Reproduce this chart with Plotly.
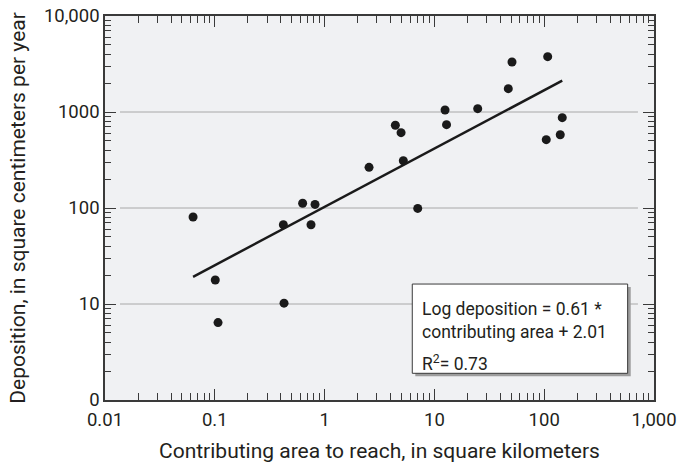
import plotly.graph_objects as go

# Data
area_km2 = [0.0634, 0.101, 0.107, 0.427, 0.421, 0.631, 0.752, 0.818, 2.54, 4.41,
            4.97, 5.21, 7.05, 12.5, 12.9, 24.8, 47.1, 50.9, 107.6, 104.4, 140, 146]
deposition = [80.6, 17.8, 6.4, 10.2, 67, 112, 67, 109, 265, 727,
              609, 311, 99, 1050, 738, 1083, 1750, 3318, 3768, 515, 580, 873]

fit_x = [0.0634, 146]
fit_y = [19.2, 2120]

x_tickvals = [0.01, 0.1, 1, 10, 100, 1000]
x_ticktext = ["0.01", "0.1", "1", "10", "100", "1,000"]
y_tickvals = [1, 10, 100, 1000, 10000]
y_ticktext = ["0", "10", "100", "1000", "10,000"]
grid_vals = [10, 100, 1000]
grid_span = [0.0137, 714]

x_minor = [m * 10 ** e for e in range(-2, 3) for m in range(2, 10)]
y_minor = [m * 10 ** e for e in range(0, 4) for m in range(2, 10)]

FONT = "Roboto, Liberation Sans Narrow, sans-serif"
TXT = "#231f20"
AX = "#3a3a3a"

fig = go.Figure()

# grid lines (short of the frame, as in the reference)
for g in grid_vals:
    fig.add_trace(go.Scatter(x=grid_span, y=[g, g], mode="lines",
                             line=dict(color="#a8a8a8", width=1), hoverinfo="skip",
                             showlegend=False))

fig.add_trace(go.Scatter(x=area_km2, y=deposition, mode="markers",
                         marker=dict(color="#1a1a1a", size=9), showlegend=False))
fig.add_trace(go.Scatter(x=fit_x, y=fit_y, mode="lines",
                         line=dict(color="#1a1a1a", width=2.5), showlegend=False))

axis_common = dict(
    type="log", showgrid=False, zeroline=False, automargin=False,
    showline=True, linecolor=AX, linewidth=1.5, mirror="allticks",
    ticks="inside", ticklen=11, tickwidth=1, tickcolor=AX,
    tickfont=dict(family=FONT, size=18.5, color=TXT),
)

fig.update_xaxes(**axis_common, range=[-2, 3], tickmode="array",
                 tickvals=x_tickvals, ticktext=x_ticktext, ticklabelstandoff=2,
                 minor=dict(ticks="inside", ticklen=7, tickwidth=1, tickcolor=AX,
                            tickmode="array", tickvals=x_minor, showgrid=False))
fig.update_yaxes(**axis_common, range=[0, 4], tickmode="array",
                 tickvals=y_tickvals, ticktext=y_ticktext,
                 minor=dict(ticks="inside", ticklen=6, tickwidth=1, tickcolor=AX,
                            tickmode="array", tickvals=y_minor, showgrid=False))

# axis titles
fig.add_annotation(text="Contributing area to reach, in square kilometers",
                   xref="paper", yref="paper", x=0.5, y=-0.133,
                   xanchor="center", yanchor="middle", showarrow=False,
                   font=dict(family=FONT, size=21, color=TXT))
fig.add_annotation(text="Deposition, in square centimeters per year",
                   xref="paper", yref="paper", x=-0.160, y=0.501, textangle=-90,
                   xanchor="center", yanchor="middle", showarrow=False,
                   font=dict(family=FONT, size=21, color=TXT))

# equation box with shadow
fig.add_shape(type="rect", xref="paper", yref="paper",
              x0=0.5652, x1=0.9576, y0=0.0617, y1=0.2942,
              line=dict(width=0), fillcolor="#9d9d9d", layer="above")
fig.add_shape(type="rect", xref="paper", yref="paper",
              x0=0.5597, x1=0.952, y0=0.0695, y1=0.302,
              line=dict(color="#3a3a3a", width=1), fillcolor="white", layer="above")

box_lines = ["Log deposition = 0.61 *", "contributing area + 2.01", "R<sup>2</sup>= 0.73"]
box_y = [0.238, 0.177, 0.097]
for t, yy in zip(box_lines, box_y):
    fig.add_annotation(text=t, xref="paper", yref="paper", x=0.573, y=yy,
                       xanchor="left", yanchor="middle", showarrow=False,
                       font=dict(family=FONT, size=17.5, color=TXT))

fig.update_layout(
    width=691, height=467,
    margin=dict(l=105, r=37, t=16, b=67),
    paper_bgcolor="white", plot_bgcolor="#f0f1f3",
)

fig.write_html("out.html")
